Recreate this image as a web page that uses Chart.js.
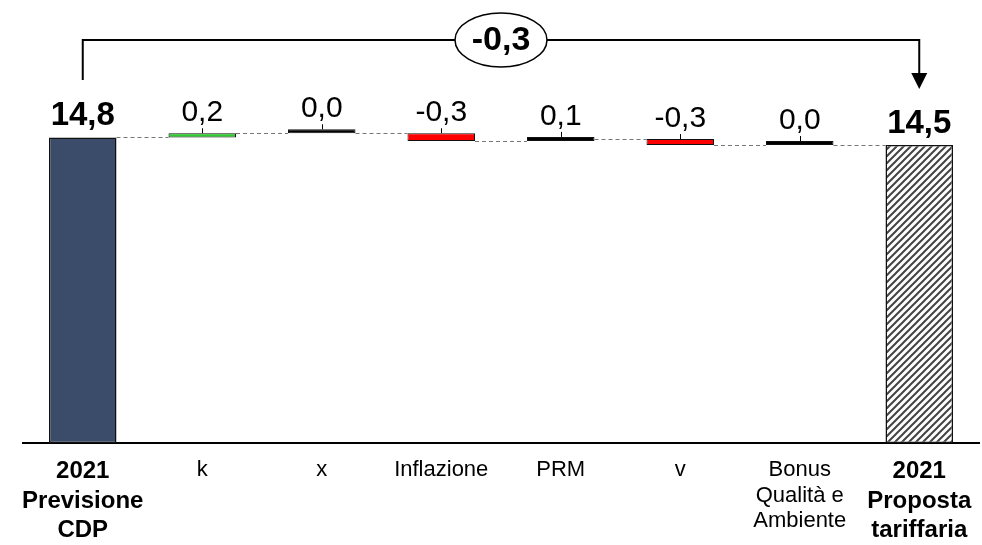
<!DOCTYPE html>
<html>
<head>
<meta charset="utf-8">
<script src="https://cdn.jsdelivr.net/npm/chart.js@4"></script>
<style>
  body { margin: 0; background: #fff; }
</style>
</head>
<body>
<canvas id="chart" width="982" height="545"></canvas>
<script>
// dati
const categories = [['2021', 'Previsione', 'CDP'], 'k', 'x', 'Inflazione', 'PRM', 'v', ['Bonus', 'Qualità e', 'Ambiente'], ['2021', 'Proposta', 'tariffaria']];
const startValue = 14.8;
const deltas = [0.2, 0.0, -0.37, 0.09, -0.29, 0.0];
const valueLabels = ['14,8', '0,2', '0,0', '-0,3', '0,1', '-0,3', '0,0', '14,5'];
const totalChange = '-0,3';

const FONT = '"Liberation Sans", Arial, sans-serif';

// barre fluttuanti della cascata
const ranges = [[0, startValue]];
let level = startValue;
deltas.forEach(d => {
  ranges.push([level, level + d]);
  level += d;
});
ranges.push([0, level]);
const levels = ranges.map(r => r[1]);

// tratteggio della barra finale
function hatch() {
  const c = document.createElement('canvas');
  c.width = 7; c.height = 7;
  const g = c.getContext('2d');
  g.fillStyle = '#fff';
  g.fillRect(0, 0, 7, 7);
  g.strokeStyle = '#444';
  g.lineWidth = 2;
  g.beginPath();
  g.moveTo(-1, 8); g.lineTo(8, -1);
  g.moveTo(-4, 4); g.lineTo(4, -4);
  g.moveTo(3, 11); g.lineTo(11, 3);
  g.stroke();
  return g.createPattern(c, 'repeat');
}

function stepColor(d) {
  if (Math.abs(d) < 0.15) return '#000';
  return d > 0 ? '#2ecc2e' : '#ff0000';
}
const colors = ['#3b4c6b'].concat(deltas.map(stepColor), [hatch()]);
const borders = ranges.map((r, i) => (i === 0 || i === ranges.length - 1) ? 1.5 : 1);

const waterfallExtras = {
  id: 'waterfallExtras',
  afterDatasetsDraw(chart) {
    const ctx = chart.ctx;
    const bars = chart.getDatasetMeta(0).data;
    const y = chart.scales.y;
    ctx.save();

    // linee di collegamento
    ctx.strokeStyle = '#777';
    ctx.lineWidth = 1;
    ctx.setLineDash([4, 3]);
    for (let i = 0; i < bars.length - 1; i++) {
      const py = Math.round(y.getPixelForValue(levels[i])) + 0.5;
      ctx.beginPath();
      ctx.moveTo(bars[i].x + bars[i].width / 2, py);
      ctx.lineTo(bars[i + 1].x - bars[i + 1].width / 2, py);
      ctx.stroke();
    }
    ctx.setLineDash([]);

    // etichette dei valori
    ctx.fillStyle = '#000';
    ctx.textAlign = 'center';
    ctx.textBaseline = 'alphabetic';
    bars.forEach((b, i) => {
      const top = Math.min(b.y, b.base);
      const total = i === 0 || i === bars.length - 1;
      ctx.font = (total ? 'bold 33px ' : '30px ') + FONT;
      ctx.fillText(valueLabels[i], b.x, top - 12);
      if (!total) {
        ctx.strokeStyle = '#000';
        ctx.beginPath();
        ctx.moveTo(Math.round(b.x) + 0.5, top);
        ctx.lineTo(Math.round(b.x) + 0.5, top - 5);
        ctx.stroke();
      }
    });

    // parentesi con freccia
    const x0 = bars[0].x, x1 = bars[bars.length - 1].x;
    const by = 40;
    ctx.strokeStyle = '#000';
    ctx.lineWidth = 2;
    ctx.beginPath();
    ctx.moveTo(x0, 80);
    ctx.lineTo(x0, by);
    ctx.lineTo(x1, by);
    ctx.lineTo(x1, 74);
    ctx.stroke();
    ctx.fillStyle = '#000';
    ctx.beginPath();
    ctx.moveTo(x1 - 8, 73);
    ctx.lineTo(x1 + 8, 73);
    ctx.lineTo(x1, 89);
    ctx.closePath();
    ctx.fill();

    const mx = (x0 + x1) / 2;
    ctx.beginPath();
    ctx.ellipse(mx, by, 46, 27, 0, 0, Math.PI * 2);
    ctx.fillStyle = '#fff';
    ctx.fill();
    ctx.lineWidth = 1.5;
    ctx.stroke();
    ctx.fillStyle = '#000';
    ctx.font = 'bold 34px ' + FONT;
    ctx.textBaseline = 'middle';
    ctx.fillText(totalChange, mx, by + 1);
    ctx.restore();
  }
};

new Chart(document.getElementById('chart'), {
  type: 'bar',
  data: {
    labels: categories,
    datasets: [{
      data: ranges,
      backgroundColor: colors,
      borderColor: '#111',
      borderWidth: borders,
      borderSkipped: false,
      minBarLength: 4,
      barPercentage: 1,
      categoryPercentage: 0.565
    }]
  },
  options: {
    responsive: false,
    animation: false,
    layout: { padding: { top: 30, left: 23, right: 3, bottom: 0 } },
    plugins: { legend: { display: false }, tooltip: { enabled: false } },
    scales: {
      y: { display: false, min: 0, max: 20 },
      x: {
        grid: { display: false, drawTicks: false },
        border: { display: true, color: '#000', width: 2 },
        afterFit: s => { s.height = 102; s.paddingLeft = 0; s.paddingRight = 0; },
        ticks: {
          color: '#000',
          padding: 14,
          maxRotation: 0,
          autoSkip: false,
          font: c => (c.index === 0 || c.index === categories.length - 1)
            ? { family: FONT, size: 24, weight: 'bold', lineHeight: 1.23 }
            : { family: FONT, size: 22, lineHeight: 1.17 }
        }
      }
    }
  },
  plugins: [waterfallExtras]
});
</script>
</body>
</html>
